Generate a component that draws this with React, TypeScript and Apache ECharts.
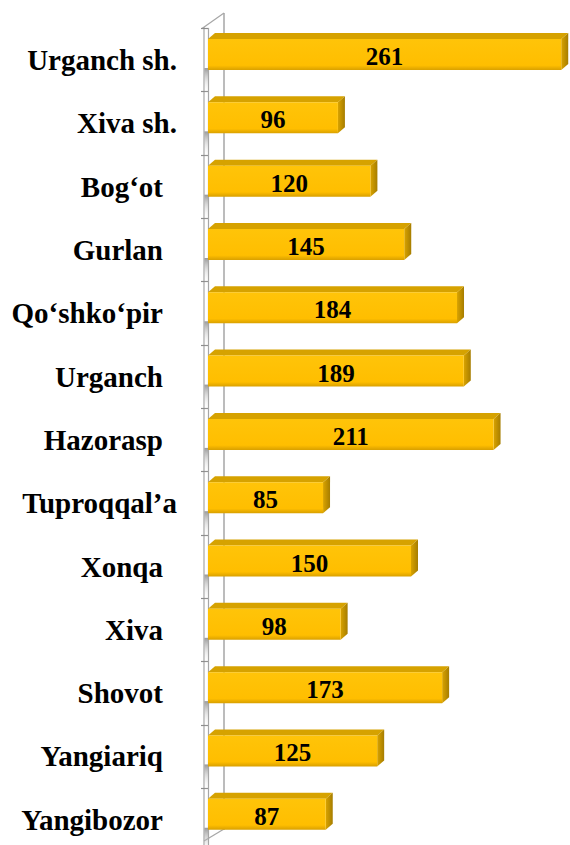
import React, { useEffect, useRef } from "react";
import * as echarts from "echarts";

const categories = [
  "Urganch sh.",
  "Xiva sh.",
  "Bog‘ot",
  "Gurlan",
  "Qo‘shko‘pir",
  "Urganch",
  "Hazorasp",
  "Tuproqqal’a",
  "Xonqa",
  "Xiva",
  "Shovot",
  "Yangiariq",
  "Yangibozor",
];
const values = [261, 96, 120, 145, 184, 189, 211, 85, 150, 98, 173, 125, 87];
const wideLabels = ["Urganch sh.", "Xiva sh.", "Tuproqqal’a"];

const SERIF = "'Liberation Serif', 'Times New Roman', serif";

export default function App() {
  const ref = useRef<HTMLDivElement>(null);
  useEffect(() => {
    if (!ref.current) return;
    const chart = echarts.init(ref.current, null, { renderer: "svg" });
    const data = values.map((v, i) => [v, i]);
    const option: any = {
      animation: false,
      backgroundColor: "#ffffff",
      grid: {
        left: 208,
        top: 28.4,
        width: 406,
        height: 823,
        containLabel: false,
        outerBoundsMode: "none",
      },
      xAxis: {
        type: "value",
        min: 0,
        max: 300,
        show: false,
      },
      yAxis: {
        type: "category",
        data: categories,
        inverse: true,
        offset: 6,
        axisLine: { show: true, lineStyle: { color: "#A6A6A6", width: 1.2 } },
        axisTick: { show: true, length: 7, lineStyle: { color: "#8C8C8C", width: 1.2 } },
        splitLine: { show: false },
        axisLabel: {
          margin: 25,
          fontFamily: SERIF,
          fontWeight: "bold",
          fontSize: 29,
          color: "#000",
          formatter: (name: string) =>
            wideLabels.includes(name) ? `{w|${name}}` : `{n|${name}}`,
          rich: {
            w: {
              fontFamily: SERIF,
              fontWeight: "bold",
              fontSize: 29,
              color: "#000",
            },
            n: {
              fontFamily: SERIF,
              fontWeight: "bold",
              fontSize: 29,
              color: "#000",
              padding: [0, 14, 0, 0],
            },
          },
        },
      },
      graphic: [
        { type: "line", shape: { x1: 204, y1: 27, x2: 204, y2: 845 }, style: { stroke: "#A6A6A6", lineWidth: 1.2 } },
        { type: "line", shape: { x1: 224, y1: 13, x2: 224, y2: 830 }, style: { stroke: "#A6A6A6", lineWidth: 1.5 } },
        { type: "line", shape: { x1: 202, y1: 28.4, x2: 224, y2: 13 }, style: { stroke: "#A6A6A6", lineWidth: 1.2 } },
        { type: "line", shape: { x1: 204, y1: 841, x2: 224, y2: 829 }, style: { stroke: "#A6A6A6", lineWidth: 1.2 } },
      ],
      series: [
        {
          type: "custom",
          data,
          encode: { x: 0, y: 1 },
          renderItem: (params: any, api: any) => {
            const v = api.value(0);
            const idx = api.value(1);
            const s = api.coord([0, idx]);
            const e = api.coord([v, idx]);
            const cy = s[1] - 5.5;
            const h = 31;
            const x0 = s[0];
            const x1 = e[0];
            const y0 = cy - h / 2;
            const y1 = cy + h / 2;
            const dx = 7;
            const dy = -6;
            return {
              type: "group",
              children: [
                {
                  type: "rect",
                  shape: { x: 204.5, y: y1 - 2, width: x0 - 204.5, height: 26 },
                  style: {
                    fill: new echarts.graphic.LinearGradient(0, 0, 0, 1, [
                      { offset: 0, color: "rgba(120,120,120,0.75)" },
                      { offset: 1, color: "rgba(255,255,255,0)" },
                    ]),
                  },
                },
                {
                  type: "polygon",
                  shape: { points: [[x0, y0], [x1, y0], [x1 + dx, y0 + dy], [x0 + dx, y0 + dy]] },
                  style: { fill: "#D6A200" },
                },
                {
                  type: "polygon",
                  shape: { points: [[x1, y0], [x1 + dx, y0 + dy], [x1 + dx, y1 + dy], [x1, y1]] },
                  style: {
                    fill: new echarts.graphic.LinearGradient(0, 0, 1, 0, [
                      { offset: 0, color: "#D9A300" },
                      { offset: 1, color: "#A67D00" },
                    ]),
                  },
                },
                {
                  type: "rect",
                  shape: { x: x0, y: y0, width: x1 - x0, height: h },
                  style: {
                    fill: new echarts.graphic.LinearGradient(0, 0, 0, 1, [
                      { offset: 0, color: "#FFC409" },
                      { offset: 0.85, color: "#FFBE00" },
                      { offset: 1, color: "#D9A000" },
                    ]),
                  },
                },
                {
                  type: "text",
                  style: {
                    text: String(v),
                    x: (x0 + x1) / 2,
                    y: cy + 2,
                    align: "center",
                    verticalAlign: "middle",
                    fontFamily: SERIF,
                    fontWeight: "bold",
                    fontSize: 25,
                    fill: "#000",
                  },
                },
              ],
            };
          },
        },
      ],
    };
    chart.setOption(option);
    return () => chart.dispose();
  }, []);
  return (
    <div
      ref={ref}
      style={{ position: "absolute", left: 0, top: 0, width: 570, height: 845 }}
    />
  );
}
